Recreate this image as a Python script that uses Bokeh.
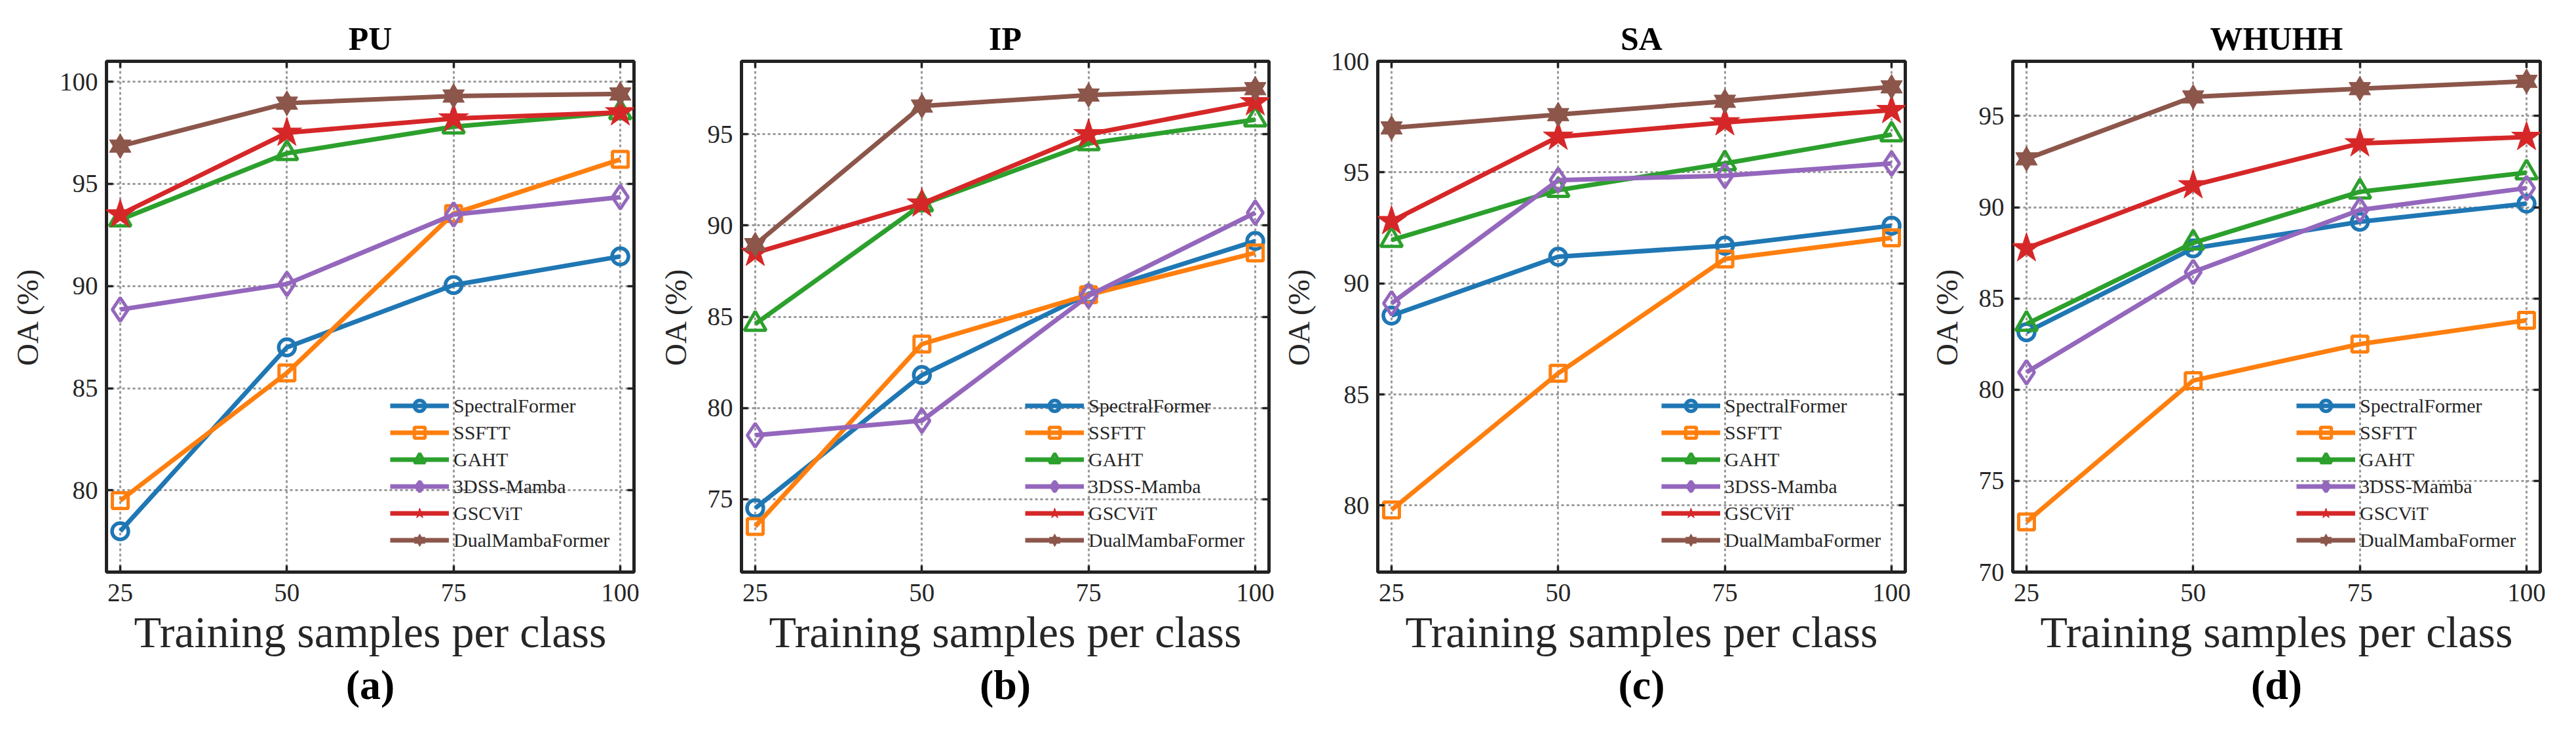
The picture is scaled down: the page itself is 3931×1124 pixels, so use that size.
from bokeh.plotting import figure
from bokeh.models import FixedTicker, Legend, LegendItem, Title, LinearAxis, Range1d
from bokeh.layouts import row
from bokeh.embed import file_html
from bokeh.resources import INLINE

# ---------------- data ----------------
x_samples = [25, 50, 75, 100]
x_ticks = [25, 50, 75, 100]
methods = ["SpectralFormer", "SSFTT", "GAHT", "3DSS-Mamba", "GSCViT", "DualMambaFormer"]

pu_spectral = [78.0, 87.0, 90.05, 91.45]
pu_ssftt = [79.5, 85.75, 93.55, 96.2]
pu_gaht = [93.25, 96.5, 97.8, 98.5]
pu_3dss = [88.85, 90.1, 93.5, 94.35]
pu_gscvit = [93.5, 97.5, 98.2, 98.5]
pu_dual = [96.85, 98.95, 99.3, 99.4]

ip_spectral = [74.5, 81.8, 86.25, 89.15]
ip_ssftt = [73.5, 83.5, 86.2, 88.5]
ip_gaht = [84.6, 91.15, 94.5, 95.8]
ip_3dss = [78.5, 79.3, 86.15, 90.7]
ip_gscvit = [88.5, 91.2, 95.0, 96.75]
ip_dual = [88.95, 96.55, 97.15, 97.5]

sa_spectral = [88.55, 91.2, 91.7, 92.6]
sa_ssftt = [79.8, 85.95, 91.1, 92.05]
sa_gaht = [91.95, 94.2, 95.4, 96.7]
sa_3dss = [89.1, 94.65, 94.85, 95.4]
sa_gscvit = [92.8, 96.6, 97.25, 97.8]
sa_dual = [97.0, 97.6, 98.2, 98.85]

wh_spectral = [83.15, 87.75, 89.2, 90.2]
wh_ssftt = [72.75, 80.5, 82.5, 83.8]
wh_gaht = [83.6, 88.05, 90.85, 91.9]
wh_3dss = [80.95, 86.45, 89.85, 91.05]
wh_gscvit = [87.75, 91.2, 93.5, 93.85]
wh_dual = [92.65, 96.05, 96.5, 96.9]

panel_titles = ["PU", "IP", "SA", "WHUHH"]
panel_letters = ["(a)", "(b)", "(c)", "(d)"]
pu_yticks = [80, 85, 90, 95, 100]
ip_yticks = [75, 80, 85, 90, 95]
sa_yticks = [80, 85, 90, 95, 100]
wh_yticks = [70, 75, 80, 85, 90, 95]
pu_yrange = [76, 101]
ip_yrange = [71, 99]
sa_yrange = [77, 100]
wh_yrange = [70, 98]
x_label = "Training samples per class"
y_label = "OA (%)"

# ---------------- style ----------------
colors = ["#1f77b4", "#ff7f0e", "#2ca02c", "#9467bd", "#d62728", "#8c564b"]
FONT = "Liberation Serif"
TXT = "#262626"

FRAME_W, FRAME_H = 805, 779
TOP, BOTTOM, RIGHT = 93, 236, 16


def add_markers(p, i, ys, color):
    if i == 0:
        return [p.scatter(x_samples, ys, marker="circle", size=25, line_color=color,
                          line_width=5.5, fill_alpha=0)]
    if i == 1:
        return [p.scatter(x_samples, ys, marker="square", size=24, line_color=color,
                          line_width=5, fill_alpha=0)]
    if i == 2:
        return [p.scatter(x_samples, ys, marker="triangle", size=33, line_color=color,
                          line_width=5, fill_alpha=0)]
    if i == 3:
        return [p.scatter(x_samples, ys, marker="diamond", size=36, line_color=color,
                          line_width=5, fill_alpha=0)]
    if i == 4:
        return [p.scatter(x_samples, ys, marker="star", size=48, line_color=color,
                          line_width=1, fill_color=color)]
    return [p.scatter(x_samples, ys, marker="triangle", size=33, line_color=color,
                      line_width=1, fill_color=color),
            p.scatter(x_samples, ys, marker="inverted_triangle", size=33, line_color=color,
                      line_width=1, fill_color=color)]


def mirror_axis(ticks):
    return LinearAxis(ticker=FixedTicker(ticks=ticks), axis_line_color=None,
                      major_tick_in=10, major_tick_out=0, major_tick_line_width=3.5,
                      major_tick_line_color="#222222", minor_tick_line_color=None,
                      major_label_text_font_size="1px", major_label_text_color=None,
                      major_label_text_alpha=0, major_label_standoff=0)


def make_panel(k, title, letter, series, yrange, yticks):
    left = 162 if k == 0 else 148
    p = figure(frame_width=FRAME_W, frame_height=FRAME_H,
               x_range=Range1d(22.94, 102.06), y_range=Range1d(yrange[0], yrange[1]),
               output_backend="svg", toolbar_location=None,
               min_border_left=left, min_border_right=RIGHT,
               min_border_top=TOP, min_border_bottom=BOTTOM)
    p.background_fill_color = "white"
    p.border_fill_color = "white"
    p.outline_line_color = "#222222"
    p.outline_line_width = 5

    p.title.text = title
    p.title.align = "center"
    p.title.text_font = FONT
    p.title.text_font_style = "bold"
    p.title.text_font_size = "50px"
    p.title.text_color = "#000000"
    p.title.standoff = 14

    for ax in (p.xaxis[0], p.yaxis[0]):
        ax.axis_line_color = None
        ax.major_tick_in = 10
        ax.major_tick_out = 0
        ax.major_tick_line_width = 3.5
        ax.major_tick_line_color = "#222222"
        ax.minor_tick_line_color = None
        ax.major_label_text_font = FONT
        ax.major_label_text_font_size = "39px"
        ax.major_label_text_color = TXT
        ax.axis_label_text_font = FONT
        ax.axis_label_text_font_style = "normal"
        ax.axis_label_text_color = TXT
    p.xaxis[0].ticker = FixedTicker(ticks=x_ticks)
    p.yaxis[0].ticker = FixedTicker(ticks=yticks)
    p.xaxis[0].axis_label = x_label
    p.xaxis[0].axis_label_text_font_size = "68px"
    p.xaxis[0].major_label_standoff = 18
    p.xaxis[0].axis_label_standoff = 6
    p.yaxis[0].axis_label = y_label
    p.yaxis[0].axis_label_text_font_size = "47px"
    p.yaxis[0].major_label_standoff = 13
    p.yaxis[0].axis_label_standoff = 20

    # mirrored ticks on top and right
    p.add_layout(mirror_axis(x_ticks), "above")
    p.add_layout(mirror_axis(yticks), "right")

    p.grid.grid_line_color = "#999999"
    p.grid.grid_line_width = 3
    p.grid.grid_line_dash = "4 4"

    items = []
    for i, ys in enumerate(series):
        r_line = p.line(x_samples, ys, line_color=colors[i], line_width=7)
        marks = add_markers(p, i, ys, colors[i])
        items.append(LegendItem(label=methods[i], renderers=[r_line] + marks))

    legend = Legend(items=items, location=(433, 28), glyph_width=90, glyph_height=41,
                    label_height=41, spacing=0, label_standoff=7, padding=0, margin=0,
                    background_fill_alpha=0, border_line_alpha=0,
                    label_text_font=FONT, label_text_font_size="30px",
                    label_text_color=TXT)
    p.add_layout(legend, "center")

    p.add_layout(Title(text=letter, align="center", offset=28, text_font=FONT,
                       text_font_style="bold", text_font_size="64px",
                       text_color="#000000", standoff=4), "below")
    return p


pu_series = [pu_spectral, pu_ssftt, pu_gaht, pu_3dss, pu_gscvit, pu_dual]
ip_series = [ip_spectral, ip_ssftt, ip_gaht, ip_3dss, ip_gscvit, ip_dual]
sa_series = [sa_spectral, sa_ssftt, sa_gaht, sa_3dss, sa_gscvit, sa_dual]
wh_series = [wh_spectral, wh_ssftt, wh_gaht, wh_3dss, wh_gscvit, wh_dual]

figs = [
    make_panel(0, panel_titles[0], panel_letters[0], pu_series, pu_yrange, pu_yticks),
    make_panel(1, panel_titles[1], panel_letters[1], ip_series, ip_yrange, ip_yticks),
    make_panel(2, panel_titles[2], panel_letters[2], sa_series, sa_yrange, sa_yticks),
    make_panel(3, panel_titles[3], panel_letters[3], wh_series, wh_yrange, wh_yticks),
]

layout = row(*figs, spacing=0)
open("out.html", "w").write(file_html(layout, INLINE))
